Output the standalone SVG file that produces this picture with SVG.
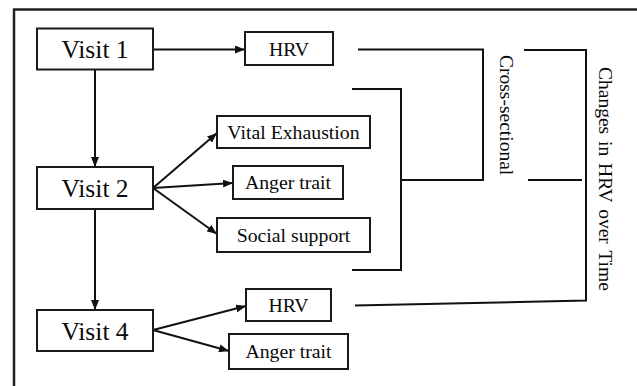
<svg xmlns="http://www.w3.org/2000/svg" width="637" height="386" viewBox="0 0 637 386">
<defs>
<style>
.box{fill:#fff;stroke:#1a1a1a;stroke-width:2}
text{font-family:'Liberation Serif','Times New Roman',serif;fill:#0a0a0a}
.t{text-anchor:middle}
.big{font-size:25.5px}
.sm{font-size:19.8px}
.ln{fill:none;stroke:#111;stroke-width:2}
.rot{font-size:19.5px}
</style>
<marker id="ah" markerWidth="10" markerHeight="8" refX="10" refY="4" orient="auto" markerUnits="userSpaceOnUse">
<path d="M0,0 L10,4 L0,8 Z" fill="#111"/>
</marker>
</defs>
<rect x="0" y="0" width="637" height="386" fill="#fff"/>
<rect x="14" y="9.5" width="640" height="400" fill="none" stroke="#222" stroke-width="2.5"/>
<g id="connectors">
<line class="ln" x1="153" y1="49.5" x2="245" y2="49.5" marker-end="url(#ah)"/>
<line class="ln" x1="95" y1="69.5" x2="95" y2="167" marker-end="url(#ah)"/>
<line class="ln" x1="95" y1="209" x2="95" y2="310" marker-end="url(#ah)"/>
<line class="ln" x1="153" y1="188" x2="217" y2="133" marker-end="url(#ah)"/>
<line class="ln" x1="153" y1="188" x2="233" y2="183" marker-end="url(#ah)"/>
<line class="ln" x1="153" y1="188" x2="217" y2="234" marker-end="url(#ah)"/>
<line class="ln" x1="153" y1="330" x2="246" y2="306" marker-end="url(#ah)"/>
<line class="ln" x1="153" y1="330" x2="229" y2="351" marker-end="url(#ah)"/>
<polyline class="ln" points="358,49.5 483,49.5 483,180 402,180"/>
<polyline class="ln" points="352,89 401,89 401,270 352,270"/>
<polyline class="ln" points="524,50 586,50 586,300.5 355,305.5"/>
<line class="ln" x1="528" y1="180" x2="582" y2="180"/>
</g>
<g id="visit1"><rect class="box" x="37" y="28.5" width="116" height="41"/><text class="t big" x="95" y="58">Visit 1</text></g>
<g id="hrv1"><rect class="box" x="245" y="32" width="88" height="33"/><text class="t sm" x="289" y="55.5">HRV</text></g>
<g id="visit2"><rect class="box" x="37" y="167" width="116" height="42"/><text class="t big" x="95" y="197">Visit 2</text></g>
<g id="vital"><rect class="box" x="217" y="116" width="153" height="32"/><text class="t sm" x="293.5" y="139">Vital Exhaustion</text></g>
<g id="anger2"><rect class="box" x="233" y="166" width="110" height="33"/><text class="t sm" x="288" y="189">Anger trait</text></g>
<g id="social"><rect class="box" x="217" y="218" width="153" height="34"/><text class="t sm" x="293.5" y="242">Social support</text></g>
<g id="visit4"><rect class="box" x="37" y="310" width="116" height="41"/><text class="t big" x="95" y="340">Visit 4</text></g>
<g id="hrv4"><rect class="box" x="246" y="289" width="85" height="32"/><text class="t sm" x="288.5" y="312">HRV</text></g>
<g id="anger4"><rect class="box" x="229" y="334" width="119" height="35"/><text class="t sm" x="288.5" y="358">Anger trait</text></g>
<g id="label-cross"><text class="rot" transform="translate(500,55) rotate(90)">Cross-sectional</text></g>
<g id="label-changes"><text class="rot" transform="translate(599,67) rotate(90)" word-spacing="2">Changes in HRV over Time</text></g>
</svg>
